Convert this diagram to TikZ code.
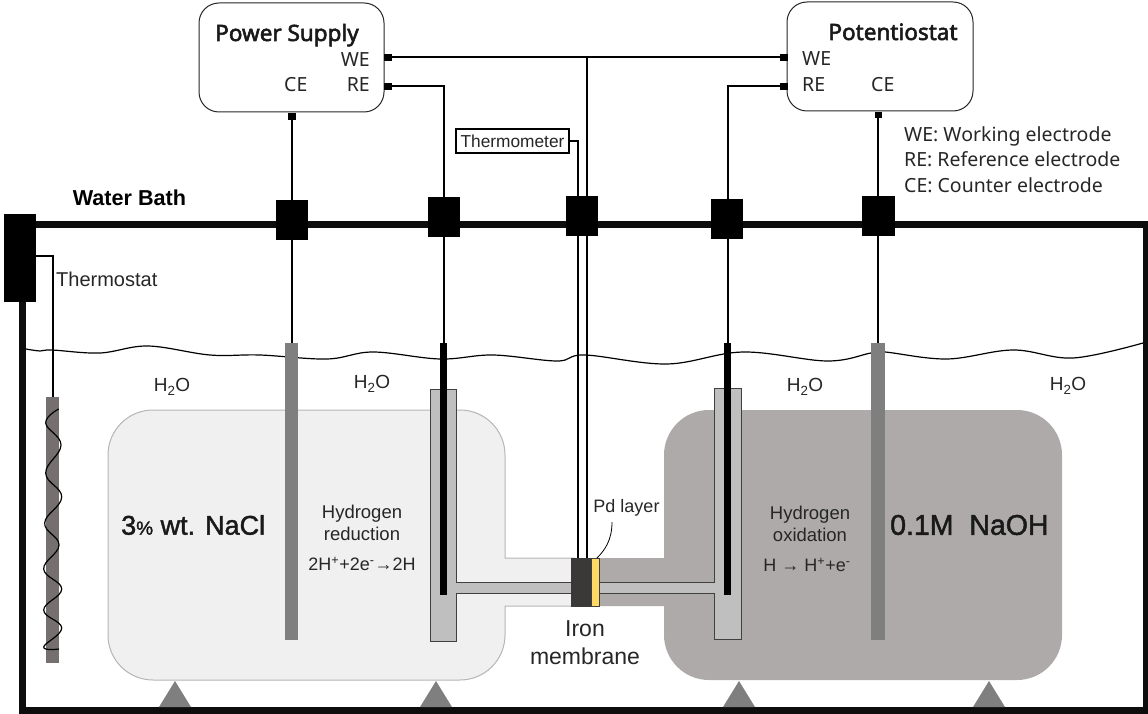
\documentclass[tikz,border=0pt]{standalone}
\usepackage{fontspec}
\setmainfont{Liberation Sans}
\newfontfamily\cjkish{Noto Sans}
\newfontfamily\cjkbold[FakeBold=2.5]{Noto Sans}
\newfontfamily\semibold[FakeBold=1.6]{Liberation Sans}
\newcommand{\bx}[6]{\pgfmathsetmacro\bxw{#4-#2}\pgfmathsetmacro\bxh{#5-#3}\pgfmathsetmacro\bxx{(#4+#2)/2}\pgfmathsetmacro\bxy{(#5+#3)/2}\node[#6,inner sep=0pt,outer sep=0pt,minimum width=\bxw pt,minimum height=\bxh pt] (#1) at (\bxx,\bxy) {};}
\newcommand{\fs}[1]{\fontsize{#1}{#1}\selectfont}
\definecolor{framec}{HTML}{0D0D0D}
\definecolor{lightcell}{HTML}{F0F0F0}
\definecolor{lightedge}{HTML}{B5B5B5}
\definecolor{darkcell}{HTML}{AEAAAA}
\definecolor{tubefill}{HTML}{BFBFBF}
\definecolor{tubeedge}{HTML}{404040}
\definecolor{ironc}{HTML}{3B3838}
\definecolor{pdc}{HTML}{FFD966}
\definecolor{heaterc}{HTML}{756F6F}
\definecolor{rodc}{HTML}{7F7F7F}
\tikzset{
  wire/.style={draw=black,line width=2pt,line join=miter},
  port/.style={fill=black},
  clampbox/.style={fill=black},
  instrument/.style={draw=black!85,line width=1pt,rounded corners=20pt,fill=white},
  grayrod/.style={fill=rodc},
  blackrod/.style={fill=black},
  tubeline/.style={draw=tubeedge,fill=tubefill,line width=1pt},
  support/.style={fill=rodc,draw=none},
  cn/.style={font=\cjkish\fs{19.5},text=black!85,inner sep=0pt},
  cnbold/.style={font=\cjkbold\fs{22.5},text=black!90,inner sep=0pt},
  lab/.style={font=\fs{18.5},text=black!85,inner sep=0pt,align=center},
  big/.style={font=\semibold\fs{27},text=black!90,inner sep=0pt},
}
\begin{document}
\begin{tikzpicture}[x=1pt,y=-1pt]
\useasboundingbox (0,0) rectangle (1148,714);
% cells
\path[fill=lightcell,draw=lightedge,line width=1pt]
  (505,558) [rounded corners=45pt] -- (505,410) -- (108,410) -- (108,680) -- (505,680) [sharp corners] -- (505,606) -- (575,606) -- (575,558) -- cycle;
\path[fill=darkcell]
  (664,558) [rounded corners=45pt] -- (664,410) -- (1062,410) -- (1062,680) -- (664,680) [sharp corners] -- (664,606) -- (595,606) -- (595,558) -- cycle;
% water bath frame
\bx{bath}{22.5}{224}{1146.5}{710.5}{draw=framec,line width=7pt}
% water surface
\draw[black,line width=1.2pt] plot[smooth,tension=0.6] coordinates {(26,349) (40,351) (52,350) (100,353) (148,346) (210,355) (260,355) (327,359) (373,352) (440,359) (493,355) (557,361) (585,355) (667,364) (743,352) (827,361) (871,353) (885,352) (947,359) (1013,350) (1073,358) (1143,343)};
% supports
\foreach \n/\c in {sa/175,sb/436,sc/739,sd/989}{
  \path[support] (\c-16,707) -- (\c,681) -- (\c+16,707) -- cycle;
}
% tubes
\path[tubeline] (430,389) -- (456.5,389) -- (456.5,582) -- (571,582) -- (571,593) -- (456.5,593) -- (456.5,641) -- (430,641) -- cycle;
\path[tubeline] (714,388) -- (741,388) -- (741,639) -- (714,639) -- (714,593) -- (599,593) -- (599,582) -- (714,582) -- cycle;
% rods
\bx{rodL}{285}{343}{298}{640}{grayrod}
\bx{rodR}{871}{343}{885}{640}{grayrod}
\bx{refL}{440}{343}{447}{595}{blackrod}
\bx{refR}{724}{343}{731}{595}{blackrod}
\bx{heater}{46}{397}{59}{663}{fill=heaterc}
% membrane
\bx{iron}{571}{558}{591}{606}{fill=ironc,draw=ironc,line width=1pt}
\bx{pd}{591}{558}{599}{606}{fill=pdc,draw=tubeedge,line width=1pt}
% coil
\draw[black,line width=1.2pt] plot[smooth,tension=0.7] coordinates {(58.7,409) (45.7,423) (61,445) (45.7,473) (61.7,497) (44.7,523) (59,545) (43.7,569) (61.7,589) (43.7,610) (61.7,628) (43.7,647) (59,649)};
% instruments
\node[instrument,inner sep=0pt,minimum width=185pt,minimum height=109pt] (ps) at (291.5,57.5) {};
\node[instrument,inner sep=0pt,minimum width=186pt,minimum height=109pt] (pot) at (880,56.5) {};
% ports
\bx{psWE}{384}{54}{392}{61}{port}
\bx{psRE}{384}{83}{392}{90}{port}
\bx{psCE}{287.5}{113}{295.5}{120}{port}
\bx{potWE}{780}{54}{788}{61}{port}
\bx{potRE}{780}{83}{788}{90}{port}
\bx{potCE}{874.5}{112}{881.5}{118}{port}
% thermometer
\node[draw=black,line width=1.3pt,fill=white,inner sep=0pt,minimum width=113pt,minimum height=24pt,font=\fs{17.3},text=black!85] (therm) at (512.5,141) {Thermometer};
% coordinates for free ends
\coordinate (junction) at (587,57.5);
\coordinate (mA) at (577.5,558);
\coordinate (mB) at (587,558);
\coordinate (tstatOut) at (35.5,256);
% wires
\draw[wire] (psCE.south) -- (rodL.north);
\draw[wire] (psRE.east) -| (refL.north);
\draw[wire] (psWE.east) -- (potWE.west);
\draw[wire] (junction) -- (mB);
\draw[wire] (therm.east) -| (mA);
\draw[wire] (potRE.west) -| (refR.north);
\draw[wire] (potCE.south) -- (rodR.north);
% clamps
\bx{cA}{276}{200}{308}{240}{clampbox}
\bx{cB}{428}{197}{460}{237}{clampbox}
\bx{cC}{566}{196}{598}{236}{clampbox}
\bx{cD}{711}{199}{743}{239}{clampbox}
\bx{cE}{862}{196}{895}{236}{clampbox}
\bx{tstat}{4}{214}{35.5}{302}{clampbox}
\draw[wire] (tstatOut) -| (heater.north);
% pd pointer
\coordinate (pdTop) at (597,558);
\node[lab,font=\fs{18}] (pdl) at (626.5,508) {Pd layer};
\draw[black,line width=0.8pt] (pdTop) .. controls (605,550) and (612,540) .. (612,522);
% labels
\node[cnbold,anchor=base] (tps) at (287,41) {Power Supply};
\node[cnbold,anchor=base] (tpot) at (893,40) {Potentiostat};
\node[cn,anchor=base east] (l1) at (370,67) {WE};
\node[cn,anchor=base east] (l2) at (370,92) {RE};
\node[cn,anchor=base west] (l3) at (284,92) {CE};
\node[cn,anchor=base west] (l4) at (802,66) {WE};
\node[cn,anchor=base west] (l5) at (802,92) {RE};
\node[cn,anchor=base west] (l6) at (871,92) {CE};
\node[cn,anchor=base west] (k1) at (904,141.5) {WE: Working electrode};
\node[cn,anchor=base west] (k2) at (904,167) {RE: Reference electrode};
\node[cn,anchor=base west] (k3) at (904,193) {CE: Counter electrode};
\node[font=\bfseries\fs{21.6},inner sep=0pt] (wb) at (129.5,198) {Water Bath};
\node[lab,anchor=west,font=\fs{20}] (ts) at (56,279) {Thermostat};
\node[lab,font=\fs{19}] (w1) at (172,387) {H\textsubscript{2}O};
\node[lab,font=\fs{19}] (w2) at (372,384) {H\textsubscript{2}O};
\node[lab,font=\fs{19}] (w3) at (805,387) {H\textsubscript{2}O};
\node[lab,font=\fs{19}] (w4) at (1068,386) {H\textsubscript{2}O};
\node[lab] (hr) at (362,523) {Hydrogen\\[4pt]reduction};
\node[lab,font=\fs{18}] (hre) at (362,564) {2H\textsuperscript{+}+2e\textsuperscript{-}→2H};
\node[lab] (ho) at (810,524) {Hydrogen\\[4pt]oxidation};
\node[lab,font=\fs{18}] (hoe) at (807,565) {H → H\textsuperscript{+}+e\textsuperscript{-}};
\node[lab,font=\fs{23}] (im) at (585,643) {Iron\\[5pt]membrane};
\node[big,anchor=west] (nacl) at (121,525) {3{\fs{19}\%} wt. NaCl};
\node[big,anchor=west,font=\semibold\fs{28.5}] (naoh) at (890,525) {0.1M\ \ NaOH};
\end{tikzpicture}
\end{document}
